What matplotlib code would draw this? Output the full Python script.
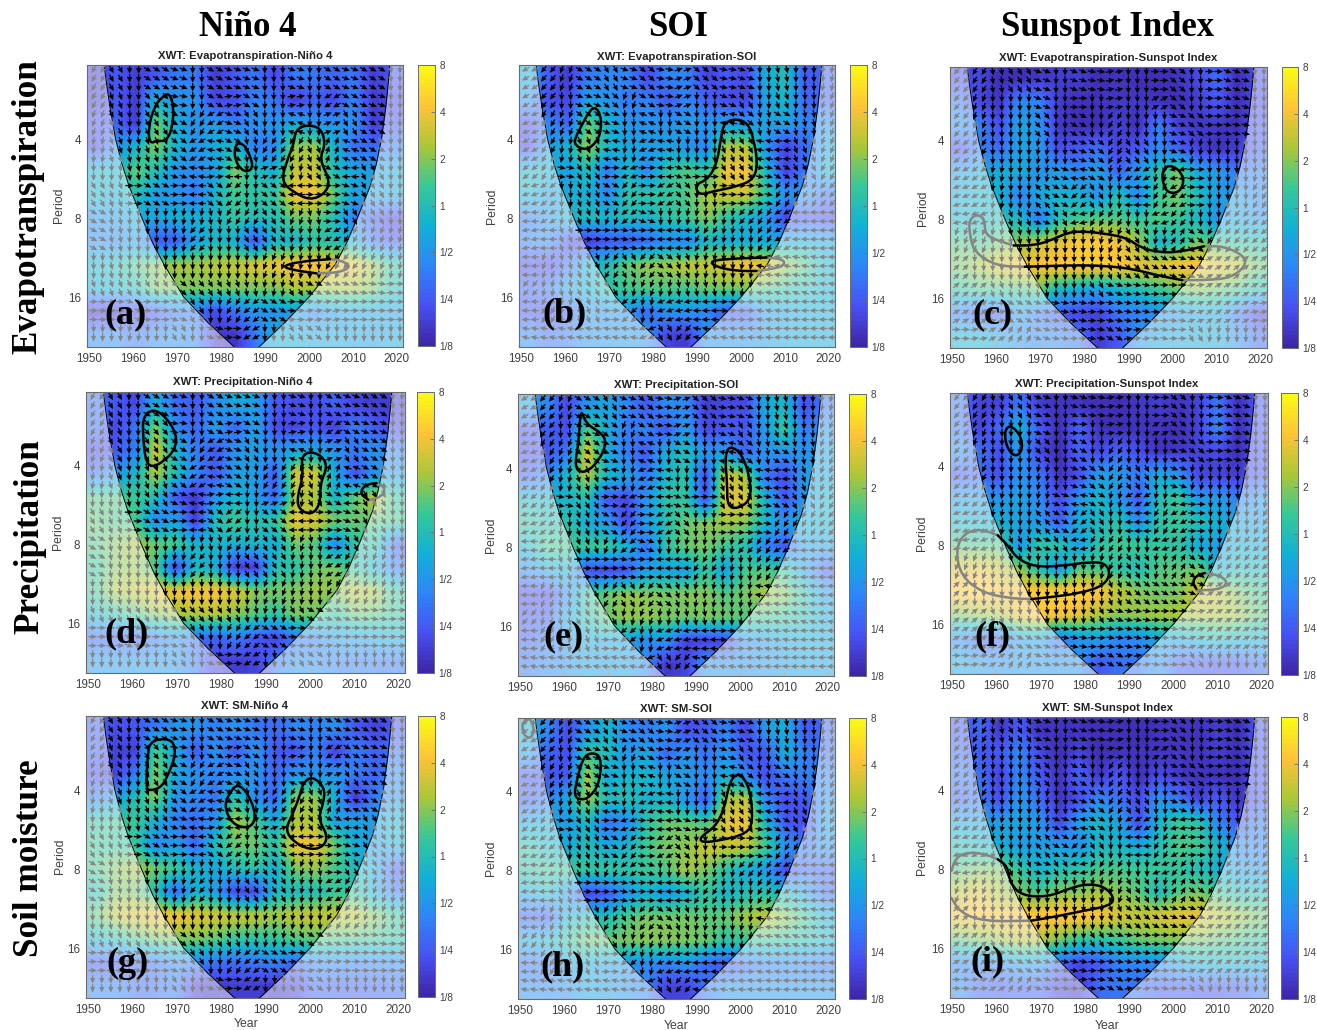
"""Cross-wavelet panels: evapotranspiration, precipitation and soil moisture against three climate indices."""
import matplotlib

matplotlib.use("Agg")
import matplotlib.pyplot as plt
import numpy as np
from matplotlib.cm import ScalarMappable
from matplotlib.colors import LinearSegmentedColormap, Normalize
from matplotlib.patches import PathPatch
from matplotlib.path import Path

WIDTH, HEIGHT = 1317, 1030

COLUMN_TITLES = ["Niño 4", "SOI", "Sunspot Index"]
ROW_TITLES = ["Evapotranspiration", "Precipitation", "Soil moisture"]
PANEL_TITLES = [
    "XWT: Evapotranspiration-Niño 4", "XWT: Evapotranspiration-SOI", "XWT: Evapotranspiration-Sunspot Index",
    "XWT: Precipitation-Niño 4", "XWT: Precipitation-SOI", "XWT: Precipitation-Sunspot Index",
    "XWT: SM-Niño 4", "XWT: SM-SOI", "XWT: SM-Sunspot Index",
]
PANEL_LETTERS = ["(a)", "(b)", "(c)", "(d)", "(e)", "(f)", "(g)", "(h)", "(i)"]
YEAR_TICKS = [1950, 1960, 1970, 1980, 1990, 2000, 2010, 2020]
PERIOD_TICKS = [4, 8, 16]
POWER_TICKS = [-3, -2, -1, 0, 1, 2, 3]
POWER_LABELS = ["1/8", "1/4", "1/2", "1", "2", "4", "8"]

# cone of influence
COI_PERIOD = [2.09, 2.5, 3, 4, 5, 6, 8, 10, 12, 16, 20, 24.8]
COI_LEFT = [1953.4, 1954, 1954.7, 1956, 1957.5, 1959, 1962, 1964.5, 1967, 1971.5, 1977, 1983]
COI_RIGHT = [2018.4, 2018, 2017.5, 2016.5, 2015.3, 2014, 2011, 2008.5, 2006, 2000, 1994.5, 1988.6]

# log2 wavelet power, 12 period bands (top to bottom) by 16 time bins
POWER_A = [
    [-2.5, -2, -2.5, -2, -1.5, -1.5, -2.5, -2, -1.5, -2.3, -1.5, -1.5, -1.8, -1.5, -2.5, -2],
    [-2.5, -2, -2.5, -0.3, -1, -1, -2.3, -2.2, -1.3, -1.5, -2.5, -1.8, -2.3, -1.3, -2.5, -2.3],
    [-2, -1.8, -2.5, 0.9, -0.5, -1, -0.8, -1.5, -1, -1, -0.5, -1, -1, -1, -2.5, -2],
    [-2.3, -1, -0.3, 1, -0.3, -1, -0.5, -0.2, -1.5, -1.2, 1.1, 1.2, -0.3, -1.7, -1.7, -1.4],
    [-0.3, -0.3, 0.8, 0, -1, -1.2, -0.8, 1, 0, -0.5, 1.5, 1.6, 0, -0.6, -0.8, -0.5],
    [-0.3, -0.5, 0, -0.8, -1, -1.5, -0.3, 0.5, 0.2, 0.3, 2, 2, 0.8, -0.7, -0.7, -0.5],
    [-1, -0.8, -0.5, -0.6, -0.4, -0.4, -0.2, 0.3, 0, 0, 0.8, 0.9, 0, -1.4, -2, -2.4],
    [-1.2, -1.2, -0.9, -2, -2, -0.8, -0.2, -0.4, -2.2, -0.2, -0.3, 0.2, 0, -0.5, -1.6, -2],
    [-0.3, 0, 0.6, 1, 1.25, 1.25, 1.4, 1.5, 1.8, 1.9, 2.2, 2.1, 2, 1.9, 1.2, 0.3],
    [-0.5, -0.3, 0, 0.9, 0.9, 0.9, 0.9, 0.9, 0.9, 0.9, 1.3, 1.25, 1.25, 1.25, 0.9, 0],
    [-2.7, -2.7, -2.4, -2, -1.5, -1.5, -2.3, -1.6, -1, -1, -0.8, -1.3, -0.8, -0.7, -0.7, -0.8],
    [-1.2, -1.2, -1.5, -1.2, -1, -1.2, -2.5, -2.7, -1.5, -0.5, -0.5, -0.6, -0.6, -0.7, -0.8, -0.6],
]
POWER_B = [
    [-0.5, -2, -2.5, -1.5, -1.2, -1.3, -2.3, -1.3, -1.3, -2.4, -2, -2.3, -0.5, 0, -2, -1.8],
    [-1, -2.2, -2.3, -0.7, -1, -1.5, -1.3, -2, -1.3, -1.8, -2.2, -2.3, -0.7, -0.2, -1.8, -1.8],
    [-2.2, -1.2, -1.8, 0.8, -0.3, -1, -1, -1, -0.8, -1, -0.8, -1, -0.7, -0.7, -1.3, -1],
    [-2.3, -0.8, -0.3, 1.2, -0.2, -0.6, -0.8, -0.7, -1, -1.3, 1.3, 1.4, -1, -2.4, -1.7, -0.7],
    [-0.2, -0.3, -0.8, 0, -1.5, -0.2, -1.3, 0.2, 0.6, 0.2, 1.9, 2.1, -0.2, -2.4, -1.5, -0.4],
    [-0.3, -0.8, -0.5, -0.4, -1.2, 0.2, 0.2, 0.3, 0.6, 1.25, 1.55, 1.6, 0.3, -1, -0.9, -1.6],
    [-1.4, -0.9, -0.3, 0, -0.3, 0, -0.3, 0.2, 0.4, 1, 0.3, -0.3, -0.8, -2.3, -2, -2.2],
    [-1.3, -1.2, -2.2, -2.5, -2, -2, -1.7, -1.2, -1.3, -0.2, -0.5, -0.5, -0.6, -0.6, -0.5, -0.7],
    [-2.2, -2.3, -1.6, -0.3, 0, 0.8, 1.1, 1.2, 1.5, 1.5, 1.9, 2.1, 1.9, 1.2, 0.6, -0.3],
    [-1.8, -1.5, -0.7, -0.4, 0.2, 0.5, 0.6, 0.6, 0.5, 0.8, 0.8, 0.9, 0.6, 0.3, 0, -0.4],
    [-2, -2.2, -1.8, -1, -1, -1, -1.7, -1, -1, -1.3, -2, -2, -0.9, -0.7, -0.5, -0.5],
    [-1.2, -1.6, -1.4, -1, -0.9, -0.9, -1, -2.4, -2.5, -1, -1, -1, -0.8, -0.6, -0.5, -0.6],
]
POWER_C = [
    [-2.2, -2.3, -2.8, -2.8, -2.6, -2.5, -2.5, -2.8, -2.7, -2.8, -2.8, -2.7, -2.3, -1.7, -2.8, -2.2],
    [-1.5, -2.3, -2.6, -1.2, -1.3, -2.5, -2.8, -2.7, -2.6, -2.6, -2.7, -2.8, -2.5, -2, -2.8, -2.2],
    [-1, -1.3, -2.2, -0.6, -1, -2.6, -2.8, -2.8, -2.4, -2.8, -1.3, -2.4, -2.6, -2.6, -2.8, -2],
    [-2.2, -1.4, -1.7, -0.7, -0.9, -2.2, -2, -1.6, -2.4, -2, -1.2, -1.8, -2.4, -2.7, -2.5, -1.8],
    [-0.8, -0.5, -0.5, -0.5, -1, -0.8, -1.2, -0.7, -1.8, -0.8, 0.2, 0.9, -0.6, -0.8, -1.5, -1.3],
    [-0.5, -0.3, -0.4, -1.4, -0.6, -0.3, -0.4, -1, 0.1, -1.3, 0.4, 0.9, 0, -0.8, -0.8, -1.2],
    [-0.3, -0.2, 0, -0.1, -1.5, 0.1, 0.5, 0.7, 0.6, 0.3, 0.6, 0.4, -0.2, -1, -0.6, -1],
    [0.6, 0.4, 0.8, 1.1, 1.6, 1.8, 2.2, 2.2, 2, 1.25, -0.3, 0, 0.9, 0.5, 0.2, 0.1],
    [0.9, 1.3, 1.7, 2, 2.1, 2.2, 2.3, 2.3, 2.2, 1.9, 1.8, 2.1, 2.2, 1.8, 1.6, 0.8],
    [0.2, 0.5, 0.5, 0.5, 0.8, -0.2, -0.5, -0.8, -0.3, 0, 0.4, 0.8, 1, 0.8, 0.5, 0],
    [-1.4, -1.9, -2, -0.8, -1.5, -2, -2.3, -2.4, -1.5, -1.4, -1.1, -0.9, -0.7, -0.6, -1.5, -2.4],
    [-0.3, -0.4, -0.7, -1, -1.2, -1.2, -1.5, -2.5, -2, -1, -0.6, -0.6, -0.5, -0.5, -1, -1.7],
]
POWER_D = [
    [-1.6, -2, -2.3, -0.5, -1.7, -2, -1.2, -0.5, -0.8, -2, -2.2, -2.2, -1.8, -2.4, -2.5, -2.5],
    [-1.6, -2.3, -1.5, 1, -1.2, -1.8, -0.8, -1.8, -0.7, -2.2, -2.3, -2, -2.4, -1.4, -2, -2.3],
    [-2.3, -2, -1.4, 1.7, -0.3, -1.4, -2, -1, -0.8, -1, -0.7, -0.6, -1, -1.5, -1, -1.3],
    [-1.6, -1, -0.2, 1.3, 0, -1.3, -2, -0.8, -0.8, -2, 1.7, 1.7, -0.6, -2.1, -1, -0.9],
    [0.6, 0.6, 0.4, 0, -2, -2.6, -1, -0.3, -0.8, -1.8, 1.3, 1.2, -0.3, 0.7, 1.5, 0.3],
    [0.7, 0.5, 0.5, -1.3, -0.7, -2.5, 0, 0.5, 0, 0.3, 1.9, 1.7, 0.9, 0.8, 0.7, 0.5],
    [0.6, 1, 1.3, 0.8, 0.5, -0.3, -0.2, -0.4, -0.2, -0.5, 0.8, 0.6, -1.2, 0.3, 0.2, -1.8],
    [0.3, 1, 1.1, 0.5, -2.3, -0.2, -0.5, -2.5, -2.5, 0, 0.2, 0.8, 0.9, 0.2, -0.4, -1.5],
    [0.5, 1.3, 1.5, 1.9, 2, 2.1, 2.1, 1.8, 1, 0.9, 1, 1.2, 1, 1.4, 1.3, 0.3],
    [-0.2, 0.2, 0.5, 1, 1.2, 1.3, 1.4, 1, 0.6, 0.2, 0.9, 0.8, 0.2, 0.8, 0.7, 0.3],
    [-1.8, -1.9, -1.9, -1.5, -1, -1.6, -1.9, -1.4, -2, -2.4, -1.5, -1.4, -0.8, -0.8, -0.7, -0.5],
    [-0.9, -0.9, -0.9, -0.9, -0.9, -1.5, -2.4, -2.5, -2.4, -1.5, -1, -1.1, -1.3, -1.4, -1.4, -1.5],
]
POWER_E = [
    [-0.7, -1.2, -2.3, -1, -0.6, -1.3, -2, -1.2, -1.2, -2.5, -2.3, -2.3, -0.6, -0.2, -2.2, -1.5],
    [-2, -1.9, -2.2, 0.6, -0.5, -1.5, -1.3, -2, -0.8, -2.3, -2, -2, -0.9, 0.4, -1.5, -1],
    [-2.2, -2, -1.5, 1.8, -0.5, -1.4, -2, -0.5, 0, -1, -0.8, -1.8, -1, -1, -1, -0.7],
    [-1.8, -1.3, -0.2, 1.4, -0.2, -0.7, -1.5, -0.2, 0.2, -2.3, 1.8, 1.2, -1.4, -2.3, -0.8, -0.6],
    [-0.2, -0.3, -0.3, 0, -2, -2.3, -1, 0.2, 0.3, -2.1, 1.8, 1.8, -0.3, -2, -1, -0.3],
    [0.3, 0, 0.2, -0.5, -0.8, -2.3, -0.8, 0, 0.8, 1, 1.2, 1, -0.2, -1, -0.3, -0.4],
    [-0.3, 0.5, 0.5, 0.4, 0.4, -0.3, -1.6, 0.2, 0.8, 0.9, 0.4, 0.1, -1.3, -2, -0.8, -0.8],
    [-1.2, -0.7, -0.3, -2.2, -2.3, -2.1, -0.8, -0.7, -0.8, 0.3, -0.8, 0.5, 0.6, 0.3, -0.8, -1.9],
    [-2.3, -2.3, -1.2, 0.3, 0.8, 1.1, 1, 0.9, 1, 1, 0.6, 0.9, 1.25, 1, 0.2, -0.8],
    [-2, -1.9, -0.6, 0.1, 0.8, 1.1, 1.1, 0.9, 0.8, 0.9, 0.8, 0.6, 0.5, 0.3, 0, -0.5],
    [-1.8, -1.5, -1, -0.6, -0.7, -0.7, -1.2, -1, -2.4, -2.4, -2.3, -1.1, -0.9, -0.7, -0.5, -0.5],
    [-1.5, -1.2, -1, -0.7, -0.8, -0.7, -1.2, -2.6, -2.4, -1, -1, -1, -0.9, -0.8, -0.7, -0.7],
]
POWER_F = [
    [-1.5, -2.4, -2.4, -1.5, -2.5, -2.7, -2.7, -2.8, -2.8, -2.6, -2.5, -2.7, -2.4, -1.5, -2.8, -2],
    [-1.5, -2.4, -1.7, -0.3, -2, -2.8, -1.8, -2.7, -2.8, -2.7, -2.7, -2.8, -2.4, -1.2, -2.8, -2],
    [-1, -1.6, -2.2, -0.8, -2.3, -2.8, -1.8, -2.3, -1.8, -2.2, -2.7, -2.6, -2.4, -2.3, -2.8, -2],
    [-2, -1.7, -2.2, -1, -1.5, -2.7, -2.2, -0.8, -0.8, -1.5, -0.5, -1, -2.3, -2.4, -2.5, -2],
    [-0.8, -0.8, -1, -0.7, -1.2, -2.3, -1, -0.2, -1, -2, 0, 0.4, -1, -0.8, -1.4, -1],
    [-0.3, -0.4, -0.4, -0.7, -0.9, -2, -0.4, -0.2, 0.2, -1.2, 0.2, 0.4, 0, -0.4, -0.6, -0.8],
    [0.6, 0.5, 0.6, -1, 0.3, 0.2, -0.8, 0.2, 0.5, 0.4, 0.3, 0.2, -0.5, -0.8, -0.4, -0.5],
    [1.7, 1.9, 1.5, 1.1, 0, -1, 0.6, 0.5, 0.2, 0, 0.6, 0.7, 0.8, -0.5, -0.1, -0.2],
    [2.2, 2.4, 2.1, 2.2, 2.3, 2.4, 2.4, 2.2, 1.5, 1, 0.8, 0.9, 1.7, 1.5, 0.9, 0.5],
    [0.9, 1.1, 1.3, 1.9, 2.2, 2, 1.8, 1.3, 1, 1.1, 1.2, 1.3, 1.3, 1.3, 1.2, 0.7],
    [-1.2, -1.9, -1.9, -0.8, -0.7, -1.6, -1, -0.8, -1.3, -1.2, -0.5, -0.7, -0.3, 0, -0.2, -0.4],
    [-0.6, -0.9, -1, -0.9, -0.9, -1, -1, -2, -1.6, -1.5, -1, -1.8, -2, -2, -2, -1.6],
]
POWER_G = [
    [-1.8, -2.2, -2, -1.5, -1, -1, -1.4, -1, -1.5, -1.7, -1.2, -1.4, -1, -2, -2.4, -2],
    [-1.8, -2.4, -2.4, 0.6, -0.6, -2, -1, -2, -1, -2, -2.1, -1.3, -2.4, -1.4, -1.9, -1.6],
    [-2.2, -2.4, -1.4, 1, -0.6, -1, -1.3, -1.2, -1, -1.8, -1, -1, -1, -1.4, -1.8, -1.2],
    [-1.4, -0.8, 0, 1, -1, -1.2, -1.6, 0.2, -1.2, -1.8, 1.1, 1.1, -0.5, -2.6, -1.4, -1],
    [0.2, 0.4, 0.4, -0.4, -1.4, -1.7, -1, 1.3, 0.5, -0.6, 1.3, 1.3, -0.8, -0.7, -0.8, -0.3],
    [0.4, 0.3, 0.3, -1.2, -0.8, -1.8, 0, 0.8, 0.8, 0.2, 1.9, 2, 0.8, -0.5, -0.9, -0.4],
    [0.5, 1, 1.25, 0.8, 0.4, -0.3, -0.6, 0, 0.2, -0.4, 0.9, 1.1, 0.5, -0.1, -0.6, -1.9],
    [0, 0.9, 0.8, 0, -1.8, -0.4, -0.8, -2.3, -2.3, -0.2, -0.1, 0, 0.4, 0.2, -0.6, -1.5],
    [0.7, 1.5, 1.8, 2, 2.1, 1.8, 1.7, 1.6, 1.5, 1.2, 1.5, 1.55, 1.5, 1.5, 1, 0.4],
    [-0.3, 0, 0.5, 0.8, 0.9, 0.9, 0.7, 0.3, 0.2, 0.3, 0.6, 0.7, 0.6, 0.5, 0.4, 0.2],
    [-2, -2, -1.9, -1.6, -1.2, -1.3, -1.6, -1.7, -1.5, -1.3, -1.8, -1.2, -1.2, -1.3, -1.3, -1.2],
    [-1.3, -1.3, -1.6, -1.6, -1.4, -2.5, -2.6, -2.5, -2.5, -2.6, -2.4, -1.7, -1.8, -1.8, -1.8, -1.6],
]
POWER_H = [
    [-0.3, -1.2, -2.2, -1.1, -0.3, -1.2, -1.5, -1, -2.2, -2, -1.3, -2.3, -0.9, -0.5, -2, -1.7],
    [-0.8, -1.8, -2.2, 0.5, 0, -1, -0.6, -1.8, -1, -1.6, -1, -2, -2, -0.4, -1.4, -1.6],
    [-2, -2, -2, 1.3, -0.6, -0.3, -0.3, -0.6, -0.8, -1.2, -0.4, -1.2, -2.2, -1.5, -1.4, -1.3],
    [-1.9, -1.3, -0.5, 1.2, 0, 0, -0.3, -0.3, -1, -2, 1.3, 1.55, -1.2, -2.2, -2, -1],
    [-0.6, -0.5, -0.9, -0.2, -1.6, -1.2, 0.2, 0.8, 0.8, 0.5, 1.8, 2, -0.2, -2, -2.2, -0.7],
    [0.2, -0.2, -0.5, 0, -0.5, -0.3, 0.5, 0.9, 1, 1.6, 1.5, 1.5, 0.5, -0.9, -1.5, -1],
    [0.2, 0.4, 0.4, 0.3, 0.3, 0.2, 0.4, 0.6, 1.25, 0.9, 0.2, -0.5, -0.9, -2.2, -1.7, -1.8],
    [-0.6, -0.2, -1, -2.3, -2, -1, -0.4, -0.9, -0.4, 0.3, -0.3, 0, 0.2, -0.2, -0.8, -1.7],
    [-1.9, -2, -0.4, 0, 0, 0.6, 0.9, 0.9, 0.9, 0.7, 0.8, 1.25, 1.5, 1.1, 0.5, -0.4],
    [-0.5, -0.3, 0.3, 0.8, 0.8, 0.9, 1, 1, 0.9, 0.8, 0.2, 0.4, 0.4, 0.2, 0, -0.3],
    [-1.6, -1.4, -0.8, -0.5, -0.7, -1, -1.2, -1.3, -1, -1.8, -2, -1.6, -1.3, -1.3, -1.3, -1.5],
    [-1.2, -1.2, -1.1, -0.7, -0.8, -1, -1.3, -2.4, -2.4, -1.5, -1, -1, -1, -1, -1, -1],
]
POWER_I = [
    [-2, -1.7, -2.6, -2, -2.7, -2.7, -2.7, -2.8, -2.8, -2.8, -2.7, -2.7, -2.7, -2.5, -2.8, -2],
    [-1.7, -2, -2, -1.2, -2.3, -2.8, -2.4, -2.8, -2.7, -2.7, -2.7, -2.6, -2.7, -2.5, -2.8, -2],
    [-1.5, -1.6, -2.4, -1.2, -2, -2.7, -1.8, -2.6, -2, -2.8, -2.2, -2.6, -2.7, -2.7, -2.8, -2],
    [-1.8, -1.4, -2.2, -0.9, -1.7, -2.7, -2.2, -1.2, -1.6, -2.3, -1, -1.5, -2.4, -2, -2.7, -2],
    [-0.6, -0.7, -0.8, -0.6, -0.9, -2.3, -0.8, -0.2, -0.7, -2.2, -0.3, 0.4, 0.2, -1.3, -2, -1.4],
    [0, -0.2, -0.4, -0.8, -0.8, -0.8, -1, -0.2, -0.2, -0.6, 0, 0.6, 0.5, -0.2, -1.2, -1.3],
    [0.6, 0.9, 0.9, 0.3, -0.3, 0, 0.2, 0.5, 0.5, 0.4, 0.4, 0.3, 0, -0.4, -0.8, -1],
    [1.5, 1.8, 1.3, 1, 0.5, 1, 1, 1.25, 1, 0.7, -0.1, 0.6, 0.9, 0.4, 0, -0.1],
    [2, 2.2, 2.1, 2.2, 2.3, 2.3, 2.3, 2.1, 1.7, 1.5, 1.7, 1.9, 1.9, 1.5, 1.25, 0.9],
    [0.7, 0.9, 1.2, 1.5, 1.4, 0.9, 0.3, 0.2, 0.4, 0.8, 0.9, 1, 0.9, 0.7, 0.5, 0.3],
    [-1.2, -1.3, -1.2, -0.7, -0.8, -1.7, -2.3, -2, -1.3, -1.3, -1.1, -0.7, -0.3, -0.3, -0.3, -0.4],
    [-1.2, -1.8, -1.9, -1.8, -1.8, -2.4, -2.5, -1.7, -1.5, -1.6, -1.9, -1.9, -2, -2, -1.9, -1.5],
]

# phase arrow directions in degrees, same bands and bins, one table per climate index
PHASE_NINO = [
    [-120, -60, -90, -30, -20, -90, -30, -20, -20, -90, -20, -90, -30, -20, -30, -90],
    [-120, -70, -90, -50, -10, -90, -30, 10, -30, -90, 10, -90, -150, -30, -20, -90],
    [-110, -60, -90, -60, -30, -120, -150, -20, -60, -90, 160, -90, 20, -60, -30, -90],
    [-100, -70, -80, -70, -40, -150, 170, -30, -80, -120, -120, -70, 70, 160, -30, -90],
    [-90, -90, -80, -60, -20, 170, 10, 180, -90, 20, -100, -60, -30, 180, -60, -90],
    [-60, -70, 0, -30, 0, 180, -40, -140, -90, -40, 180, 0, 0, -20, -60, -90],
    [-30, -80, -90, -90, -100, -100, -80, -120, -120, -60, -110, -80, 0, -60, -60, -90],
    [-30, -80, -90, -90, -100, -130, -90, -90, -60, -60, -100, -90, -150, -120, -110, -100],
    [-90, -80, -90, -90, -90, -90, -90, -90, -90, -110, -100, -90, -120, -130, -110, -100],
    [-70, -70, -60, -60, -40, -50, -60, -70, -80, -100, -60, -30, -20, -20, -10, 0],
    [0, 0, -20, 0, -20, -60, -90, -120, -140, -30, 0, 10, 10, 0, 0, 0],
    [-90, -90, -100, -90, -60, -90, -20, 0, -150, -90, -60, -40, -90, -90, -90, -90],
]
PHASE_SOI = [
    [-150, -130, -110, -30, -60, -20, -40, -10, 20, -40, -10, -20, -90, -80, -90, -100],
    [-150, -130, -90, -20, -40, -110, -30, -10, 20, -90, -20, -60, -90, -70, -90, -110],
    [-160, -120, -110, -40, -20, -90, 160, -90, -30, -90, 170, -40, -80, -30, -80, -110],
    [-150, -120, -100, -70, 170, -100, -160, 170, -90, -90, -70, -60, 170, 180, -70, -110],
    [-140, -120, -10, -60, 0, -160, 0, 180, -20, 0, -60, -60, -10, -30, -60, -120],
    [-160, -140, -90, -70, -30, -130, 0, -150, -50, -90, 0, 0, -10, -120, -120, -130],
    [180, -150, -100, -70, -110, -140, -20, -90, -100, -100, -100, -130, -120, -150, 180, 180],
    [-170, 180, -70, 0, 0, -10, 0, 180, 180, -120, -100, -90, -120, -150, 180, 180],
    [180, -110, -80, -70, -120, -60, -130, -40, -70, -100, -90, -100, 170, 170, 170, 180],
    [-130, -100, -80, -60, -60, -100, -110, -100, -80, -80, -90, -100, 170, 160, 160, 170],
    [180, -120, -100, -70, 0, -140, -100, -160, -170, 180, 0, 0, 170, 170, 180, 180],
    [170, 170, 170, 170, 170, 170, -160, -60, -130, 170, 170, 175, 175, 180, 180, 180],
]
PHASE_SUNSPOT = [
    [-130, -120, -80, -60, -20, -90, -20, -10, 10, -90, 0, -40, -90, 0, -20, -90],
    [-130, -110, -90, -90, -20, -90, 0, -90, 10, -90, 30, -40, -90, 0, -20, -90],
    [-130, -110, -90, -90, -50, -90, -30, -90, -120, -90, -90, -20, -40, 0, -10, -90],
    [-140, -120, -90, -90, -100, -90, -20, -40, -120, -60, -90, -20, -100, -90, -90, -90],
    [-150, -140, -100, -90, -100, -20, 170, -30, -100, -150, -100, -170, 0, -90, -90, -100],
    [-160, -150, -100, -90, 130, -30, -140, -60, -90, 180, -120, -150, 0, -90, -90, -120],
    [-170, -160, -100, -70, -20, -60, -170, -120, -120, -90, -160, -130, -90, -90, -130, -140],
    [-110, -110, -100, -80, -90, -90, -90, -100, -110, -60, -100, 60, -40, -120, -130, -140],
    [45, -90, -90, -90, -90, -90, -90, -90, -70, -40, -30, -20, -20, 30, 40, 40],
    [40, 40, -70, -80, -80, -90, -90, -60, -20, -10, 0, 0, 10, 30, 30, 30],
    [30, 40, 10, -30, -20, -10, -10, 0, -10, -10, 0, -10, 20, 40, 30, 10],
    [0, 10, 30, 60, -20, -10, 0, -10, -30, 10, -10, 0, -60, -100, -90, -100],
]

# significance contours: (inside cone?, closed?, [(year, log2 period), ...])
CONTOURS_A = [
    (True, True, [(1966.5, 1.5), (1968, 1.44), (1969, 1.6), (1968.7, 1.85), (1967.5, 2), (1965.5, 2), (1964, 2.03), (1963.7, 1.85), (1965, 1.6)]),
    (True, True, [(1984, 2.06), (1985.5, 2.1), (1986.7, 2.25), (1987, 2.35), (1986, 2.4), (1984.5, 2.37), (1983.3, 2.25), (1983.3, 2.12)]),
    (True, True, [(1999.5, 1.86), (2002.5, 1.9), (2003.4, 2.09), (2002.1, 2.26), (2004.4, 2.51), (2003.2, 2.66), (2000.2, 2.73), (1996.8, 2.64), (1994.2, 2.51), (1995.5, 2.26), (1996.8, 2.09), (1997.2, 1.92)]),
    (True, False, [(2004.8, 3.52), (1998, 3.55), (1993.8, 3.61), (1996.5, 3.66), (2001.7, 3.7)]),
    (False, False, [(2004.8, 3.52), (2007, 3.53), (2009.7, 3.61), (2007, 3.69), (2001.7, 3.7)]),
]
CONTOURS_B = [
    (True, True, [(1966.7, 1.62), (1967.8, 1.7), (1968, 1.87), (1967.1, 2.02), (1964.8, 2.12), (1962.5, 2.06), (1962.5, 1.98), (1964.1, 1.81), (1965.6, 1.66)]),
    (True, True, [(1999, 1.79), (2001.3, 1.85), (2002.4, 2.04), (2003.2, 2.3), (2002.4, 2.49), (1999, 2.57), (1993.7, 2.63), (1991, 2.67), (1990.2, 2.55), (1992.9, 2.49), (1994.8, 2.3), (1995.6, 2), (1996.3, 1.83)]),
    (True, False, [(2005.8, 3.5), (1999, 3.51), (1992.7, 3.54), (1994.4, 3.62), (1999, 3.67), (2003.5, 3.67)]),
    (False, False, [(2005.8, 3.5), (2009.6, 3.52), (2010, 3.6), (2006.6, 3.65), (2003.5, 3.67)]),
]
CONTOURS_C = [
    (True, True, [(1999.1, 2.32), (2001.4, 2.38), (2002.4, 2.51), (2001.4, 2.64), (1999.1, 2.65), (1998, 2.55), (1997.8, 2.4)]),
    (True, False, [(1964, 3.33), (1968.4, 3.33), (1972.2, 3.27), (1976, 3.17), (1979, 3.15), (1983.6, 3.17), (1989.6, 3.23), (1992.7, 3.36), (1997.2, 3.42), (2001.8, 3.41), (2007.1, 3.34)]),
    (True, False, [(1966.5, 3.6), (1972.2, 3.59), (1979, 3.58), (1985.1, 3.59), (1991.2, 3.63), (1996.5, 3.71), (2002.2, 3.77)]),
    (False, False, [(1964, 3.33), (1959.3, 3.25), (1957.4, 3.17), (1957.4, 3), (1955.8, 2.93), (1953.8, 3), (1954, 3.21), (1955.1, 3.42), (1960, 3.59), (1966.5, 3.6)]),
    (False, False, [(2007.1, 3.34), (2011.7, 3.34), (2016.2, 3.46), (2016.6, 3.59), (2013.2, 3.74), (2007.9, 3.77), (2002.2, 3.77)]),
]
CONTOURS_D = [
    (True, True, [(1964.7, 1.31), (1967.3, 1.4), (1969.6, 1.61), (1969.2, 1.78), (1966.9, 1.92), (1964.3, 1.99), (1963.1, 1.9), (1962.6, 1.59), (1962.7, 1.4)]),
    (True, True, [(1999.8, 1.85), (2002.4, 1.9), (2003.6, 2.03), (2002.1, 2.22), (2002.1, 2.47), (2000.2, 2.59), (1997.5, 2.51), (1997.5, 2.35), (1998.6, 2.14), (1998.2, 1.92)]),
    (True, False, [(2015, 2.22), (2012.4, 2.24), (2011.2, 2.35), (2013.1, 2.43)]),
    (False, False, [(2015, 2.22), (2017, 2.28), (2016.2, 2.39), (2013.1, 2.44)]),
]
CONTOURS_E = [
    (True, True, [(1963.9, 1.28), (1965, 1.47), (1968.5, 1.58), (1969.2, 1.7), (1967.7, 1.89), (1965, 2.03), (1963.1, 2), (1962.8, 1.89), (1963.5, 1.68)]),
    (True, True, [(1997.7, 1.75), (2000.4, 1.85), (2002.1, 2.15), (2002.1, 2.38), (1999.6, 2.48), (1997.3, 2.46), (1997.3, 2.19), (1996.8, 1.89)]),
]
CONTOURS_F = [
    (True, True, [(1962.9, 1.48), (1965.2, 1.59), (1965.8, 1.76), (1964.5, 1.86), (1962.7, 1.78), (1961.9, 1.59)]),
    (True, False, [(1960.3, 2.87), (1962.6, 3), (1964.8, 3.17), (1968.6, 3.27), (1974.7, 3.26), (1980.8, 3.21), (1984.6, 3.22), (1985.8, 3.36), (1984.2, 3.51), (1979.3, 3.6), (1973.2, 3.65), (1967.9, 3.68)]),
    (False, False, [(1960.3, 2.87), (1956.5, 2.79), (1952.7, 2.84), (1950.8, 3.05), (1951.9, 3.38), (1956.5, 3.59), (1962.6, 3.67), (1967.9, 3.68)]),
    (True, False, [(2007.1, 3.35), (2005.2, 3.38), (2004.3, 3.47), (2005.2, 3.55)]),
    (False, False, [(2007.1, 3.35), (2010.5, 3.38), (2012.4, 3.47), (2010.5, 3.56), (2005.2, 3.57)]),
]
CONTOURS_G = [
    (True, True, [(1965.7, 1.38), (1968.8, 1.39), (1969.4, 1.56), (1968, 1.77), (1966.5, 1.94), (1963.8, 1.98), (1963.3, 1.92), (1963.7, 1.51), (1964.2, 1.43)]),
    (True, True, [(1983.7, 1.95), (1985.6, 2.04), (1987.3, 2.25), (1987.1, 2.42), (1984.8, 2.46), (1982.2, 2.38), (1981, 2.19), (1982.2, 2.04)]),
    (True, True, [(2000.5, 1.87), (2003, 2), (2002.8, 2.17), (2001.6, 2.36), (2003.6, 2.55), (2002.8, 2.68), (2000.1, 2.72), (1996.7, 2.63), (1994.9, 2.49), (1996.3, 2.32), (1997.8, 2.11), (1998.6, 1.94)]),
]
CONTOURS_H = [
    (True, True, [(1966, 1.53), (1968.1, 1.57), (1967.8, 1.88), (1965.7, 2.05), (1963.8, 2.08), (1962.5, 2.03), (1963, 1.86), (1964.3, 1.59)]),
    (True, True, [(1999.8, 1.82), (2001.7, 1.99), (2002.3, 2.37), (2001, 2.51), (1995.3, 2.59), (1991.5, 2.61), (1991.5, 2.54), (1994.5, 2.43), (1996.4, 2.22), (1997.2, 1.97), (1998.3, 1.84)]),
    (False, True, [(1952, 1.06), (1953.1, 1.19), (1952.4, 1.32), (1950.8, 1.27), (1950.5, 1.14)]),
]
CONTOURS_I = [
    (True, False, [(1960.3, 2.87), (1962.5, 2.96), (1963.1, 3.17), (1965.6, 3.33), (1971.6, 3.35), (1977, 3.23), (1980.8, 3.18), (1984.5, 3.22), (1986.7, 3.36), (1985.7, 3.46), (1979.2, 3.53), (1973.2, 3.6), (1967.8, 3.65)]),
    (False, False, [(1960.3, 2.87), (1957.2, 2.8), (1953.4, 2.78), (1950.8, 2.85), (1949.8, 3.02)]),
    (False, False, [(1949.8, 3.36), (1951.9, 3.55), (1957.2, 3.66), (1967.8, 3.65)]),
]

POWERS = [POWER_A, POWER_B, POWER_C, POWER_D, POWER_E, POWER_F, POWER_G, POWER_H, POWER_I]
PHASES = [PHASE_NINO, PHASE_SOI, PHASE_SUNSPOT]
CONTOURS = [CONTOURS_A, CONTOURS_B, CONTOURS_C, CONTOURS_D, CONTOURS_E, CONTOURS_F, CONTOURS_G, CONTOURS_H, CONTOURS_I]

# axes and colorbar boxes in image pixels: left, top, right, bottom
AXES_BOXES = [
    (87, 65, 403, 347), (519, 65, 835, 347), (950, 67, 1267, 348),
    (86, 392, 405, 673), (518, 394, 834, 676), (950, 393, 1268, 674),
    (86, 716, 405, 998), (518, 718, 835, 999), (950, 717, 1268, 998),
]
CBAR_BOXES = [
    (418, 65, 435, 346), (850, 65, 867, 347), (1282, 67, 1298, 348),
    (417, 392, 434, 673), (849, 394, 866, 676), (1281, 393, 1298, 675),
    (418, 716, 435, 997), (849, 718, 866, 999), (1281, 717, 1298, 999),
]
TITLE_XY = [(245, 56), (677, 57), (1108, 58), (243, 382), (676, 385), (1107, 384), (245, 706), (676, 709), (1107, 708)]
LETTER_XY = [(126, 315), (565, 314), (992, 315), (127, 634), (563, 637), (992, 637), (127, 963), (562, 967), (987, 962)]
PERIOD_XY = [(59, 205), (492, 206), (923, 208), (58, 532), (491, 535), (922, 533), (60, 856), (491, 858), (922, 857)]
YEAR_XY = [(246, 1024), (676, 1026), (1107, 1026)]
COLUMN_XY = [(248, 28), (678, 28), (1108, 28)]
ROW_XY = [(28, 207), (30, 537), (30, 858)]

PARULA = ["#3E26A8", "#4752F4", "#2D87F7", "#12B1D6", "#37C897", "#ABC739", "#FEC338", "#F9FB15"]
GREY = "#858585"
TEXT = "#404040"
FRAME = "#6b6b6b"
SANS = "Liberation Sans"
SERIF = "Liberation Serif"

YEAR_MIN, YEAR_MAX = 1949.5, 2021.4
OCT_MIN, OCT_MAX = 1.063, 4.632


def px(x, y):
    return x / WIDTH, 1 - y / HEIGHT


def box_rect(box):
    left, top, right, bottom = box
    return [left / WIDTH, 1 - bottom / HEIGHT, (right - left) / WIDTH, (bottom - top) / HEIGHT]


def smooth_path(points, closed):
    # quadratic segments through edge midpoints, so typed outlines render round
    pts = np.array(points, dtype=float)
    if closed:
        # midpoint smoothing cuts corners, push the outline back out a little
        centre = pts.mean(axis=0)
        pts = centre + (pts - centre) * 1.1
        mids = (pts + np.roll(pts, -1, axis=0)) / 2
        verts = [mids[-1]]
        for p, m in zip(pts, mids):
            verts += [p, m]
        codes = [Path.MOVETO] + [Path.CURVE3] * (len(verts) - 1)
    else:
        mids = (pts[:-1] + pts[1:]) / 2
        verts = [pts[0], mids[0]]
        codes = [Path.MOVETO, Path.LINETO]
        for p, m in zip(pts[1:-1], mids[1:]):
            verts += [p, m]
            codes += [Path.CURVE3, Path.CURVE3]
        verts.append(pts[-1])
        codes.append(Path.LINETO)
    return Path(verts, codes)


def draw_panel(fig, index, cmap, norm):
    ax = fig.add_axes(box_rect(AXES_BOXES[index]))
    power = np.array(POWERS[index], dtype=float)
    ax.imshow(
        power,
        extent=(YEAR_MIN, YEAR_MAX, OCT_MAX, OCT_MIN),
        aspect="auto",
        cmap=cmap,
        norm=norm,
        interpolation="bilinear",
        zorder=1,
    )

    coi_oct = np.log2(COI_PERIOD)
    ax.fill_betweenx(coi_oct, YEAR_MIN, COI_LEFT, color="white", alpha=0.5, lw=0, zorder=2)
    ax.fill_betweenx(coi_oct, COI_RIGHT, YEAR_MAX, color="white", alpha=0.5, lw=0, zorder=2)
    ax.plot(COI_LEFT, coi_oct, color="black", lw=0.7, zorder=3)
    ax.plot(COI_RIGHT, coi_oct, color="black", lw=0.7, zorder=3)

    # phase arrows on a regular grid, directions looked up from the coarse table
    phase = np.radians(np.array(PHASES[index % 3], dtype=float))
    years = np.arange(1951, 2021.2, 2.05)
    octaves = np.arange(1.12, 4.62, 0.113)
    xx, yy = np.meshgrid(years, octaves)
    col = np.clip(((xx - YEAR_MIN) / (YEAR_MAX - YEAR_MIN) * phase.shape[1]).astype(int), 0, phase.shape[1] - 1)
    row = np.clip(((yy - OCT_MIN) / (OCT_MAX - OCT_MIN) * phase.shape[0]).astype(int), 0, phase.shape[0] - 1)
    angle = phase[row, col]
    inside = (xx > np.interp(yy, coi_oct, COI_LEFT)) & (xx < np.interp(yy, coi_oct, COI_RIGHT))
    for mask, color, z in ((~inside, GREY, 4), (inside, "black", 5)):
        ax.quiver(
            xx[mask],
            yy[mask],
            np.cos(angle[mask]) * 8.5,
            np.sin(angle[mask]) * 8.5,
            color=color,
            angles="uv",
            units="dots",
            scale_units="dots",
            scale=1,
            width=1.3,
            headwidth=4.2,
            headlength=4.5,
            headaxislength=4.2,
            pivot="mid",
            zorder=z,
        )

    for inner, closed, points in CONTOURS[index]:
        patch = PathPatch(
            smooth_path(points, closed),
            fill=False,
            edgecolor="black" if inner else GREY,
            lw=1.8,
            capstyle="round",
            zorder=6 if inner else 5.5,
        )
        ax.add_patch(patch)

    ax.set_xlim(YEAR_MIN, YEAR_MAX)
    ax.set_ylim(OCT_MAX, OCT_MIN)
    ax.set_xticks(YEAR_TICKS)
    ax.set_yticks(np.log2(PERIOD_TICKS))
    ax.set_yticklabels([str(p) for p in PERIOD_TICKS])
    ax.tick_params(
        direction="in", length=3, width=0.6, top=True, right=True, color=FRAME,
        labelcolor=TEXT, labelsize=8.4, pad=4,
    )
    for label in ax.get_xticklabels() + ax.get_yticklabels():
        label.set_family(SANS)
    for spine in ax.spines.values():
        spine.set_color(FRAME)
        spine.set_linewidth(0.8)
        spine.set_zorder(7)

    cax = fig.add_axes(box_rect(CBAR_BOXES[index]))
    cbar = fig.colorbar(ScalarMappable(norm=norm, cmap=cmap), cax=cax)
    cbar.set_ticks(POWER_TICKS)
    cbar.set_ticklabels(POWER_LABELS)
    cbar.ax.tick_params(direction="in", length=3, width=0.6, color=FRAME, labelcolor=TEXT, labelsize=7.2, pad=3.2)
    for label in cbar.ax.get_yticklabels():
        label.set_family(SANS)
    cbar.outline.set_edgecolor(FRAME)
    cbar.outline.set_linewidth(0.7)

    x, y = TITLE_XY[index]
    fig.text(*px(x, y), PANEL_TITLES[index], ha="center", va="center", fontsize=8.2, fontweight="bold",
             family=SANS, color="#222222")
    x, y = LETTER_XY[index]
    fig.text(*px(x, y), PANEL_LETTERS[index], ha="center", va="center", fontsize=26, fontweight="bold",
             family=SERIF, color="black", zorder=10)
    x, y = PERIOD_XY[index]
    fig.text(*px(x, y), "Period", ha="center", va="center", rotation=90, fontsize=8.8, family=SANS, color=TEXT)


def main():
    fig = plt.figure(figsize=(WIDTH / 100, HEIGHT / 100), dpi=100)
    cmap = LinearSegmentedColormap.from_list("parula", PARULA, N=64)
    norm = Normalize(vmin=-3, vmax=3)

    for index in range(9):
        draw_panel(fig, index, cmap, norm)

    for (x, y), label in zip(COLUMN_XY, COLUMN_TITLES):
        fig.text(*px(x, y), label, ha="center", va="center", fontsize=25, fontweight="bold", family=SERIF)
    for (x, y), label in zip(ROW_XY, ROW_TITLES):
        fig.text(*px(x, y), label, ha="center", va="center", rotation=90, fontsize=25.3, fontweight="bold", family=SERIF)
    for x, y in YEAR_XY:
        fig.text(*px(x, y), "Year", ha="center", va="center", fontsize=8.8, family=SANS, color=TEXT)

    fig.savefig("out.png", dpi=100)
    plt.close(fig)


if __name__ == "__main__":
    main()
